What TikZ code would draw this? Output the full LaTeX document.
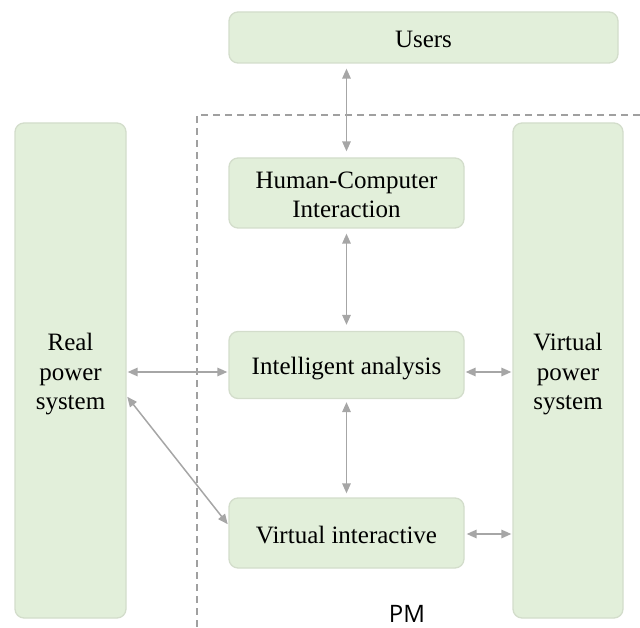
\documentclass[tikz,border=0pt]{standalone}
\usepackage{fontspec}
\setmainfont{Liberation Serif}
\newfontfamily\pmfont{Open Sans}
\usetikzlibrary{arrows.meta}
\definecolor{boxfill}{HTML}{E2EFDA}
\definecolor{boxline}{HTML}{D3DDCB}
\definecolor{arrowgray}{HTML}{A6A6A6}
\definecolor{dashgray}{HTML}{A0A0A0}
\begin{document}
\begin{tikzpicture}[x=1pt,y=-1pt,
  box/.style={draw=boxline, line width=1.3pt, fill=boxfill, rounded corners=9pt, inner sep=0pt},
  txt/.style={inner sep=0pt, font=\fontsize{25}{29.5}\selectfont, align=center},
  link/.style={draw=arrowgray, line width=1.5pt,
    {Triangle[length=10pt,width=8.5pt]}-{Triangle[length=10pt,width=8.5pt]}},
  border/.style={draw=dashgray, line width=1.2pt, dash pattern=on 7pt off 5pt}]
\useasboundingbox (0,0) rectangle (640,628);
\draw[border] (640,115) -- (197,115) -- (197,628);
\node[box, minimum width=389pt, minimum height=51pt] (users) at (423.5,37.5) {};
\node[box, minimum width=235pt, minimum height=70pt] (hci) at (346.5,193) {};
\node[box, minimum width=235pt, minimum height=67pt] (ia) at (346.5,365) {};
\node[box, minimum width=235pt, minimum height=70pt] (vi) at (346.5,533) {};
\node[box, minimum width=111pt, minimum height=495pt] (real) at (70.5,370.5) {};
\node[box, minimum width=110pt, minimum height=495pt] (vps) at (568,370.5) {};
\node[txt] (tusers) at ([yshift=-1.5pt]users.center) {Users};
\node[txt] (thci) at ([yshift=-2pt]hci.center) {Human-Computer\\Interaction};
\node[txt] (tia) at ([yshift=-3.5pt]ia.center) {Intelligent analysis};
\node[txt] (tvi) at ([yshift=-2pt]vi.center) {Virtual interactive};
\node[txt] (treal) at ([yshift=-4pt]real.center) {Real\\power\\system};
\node[txt] (tvps) at ([yshift=-4pt]vps.center) {Virtual\\power\\system};
\node[font=\pmfont\fontsize{24}{24}\selectfont] (pm) at (407,614) {PM};
\draw[link, shorten <=5pt, shorten >=6pt] (hci.north |- users.south) -- (hci.north);
\draw[link, shorten <=5pt, shorten >=6pt] (hci.south) -- (ia.north);
\draw[link, shorten <=3pt, shorten >=4pt] (ia.south) -- (vi.north);
\draw[link, shorten <=1pt, shorten >=1pt] (real.east |- ia.west) ++(0,7) coordinate (ra) (ra) -- ([yshift=-7pt]ia.west);
\draw[link, shorten <=1pt, shorten >=1pt] ([yshift=-7pt]ia.east) -- (vps.west |- ra);
\draw[link, shorten <=1pt, shorten >=1pt] (real.east |- 0,396) coordinate (rb) (rb) -- ([yshift=8pt]vi.west);
\draw[link, shorten <=2pt, shorten >=1pt] ([yshift=-1pt]vi.east) -- (vps.west |- 0,534);
\end{tikzpicture}
\end{document}
